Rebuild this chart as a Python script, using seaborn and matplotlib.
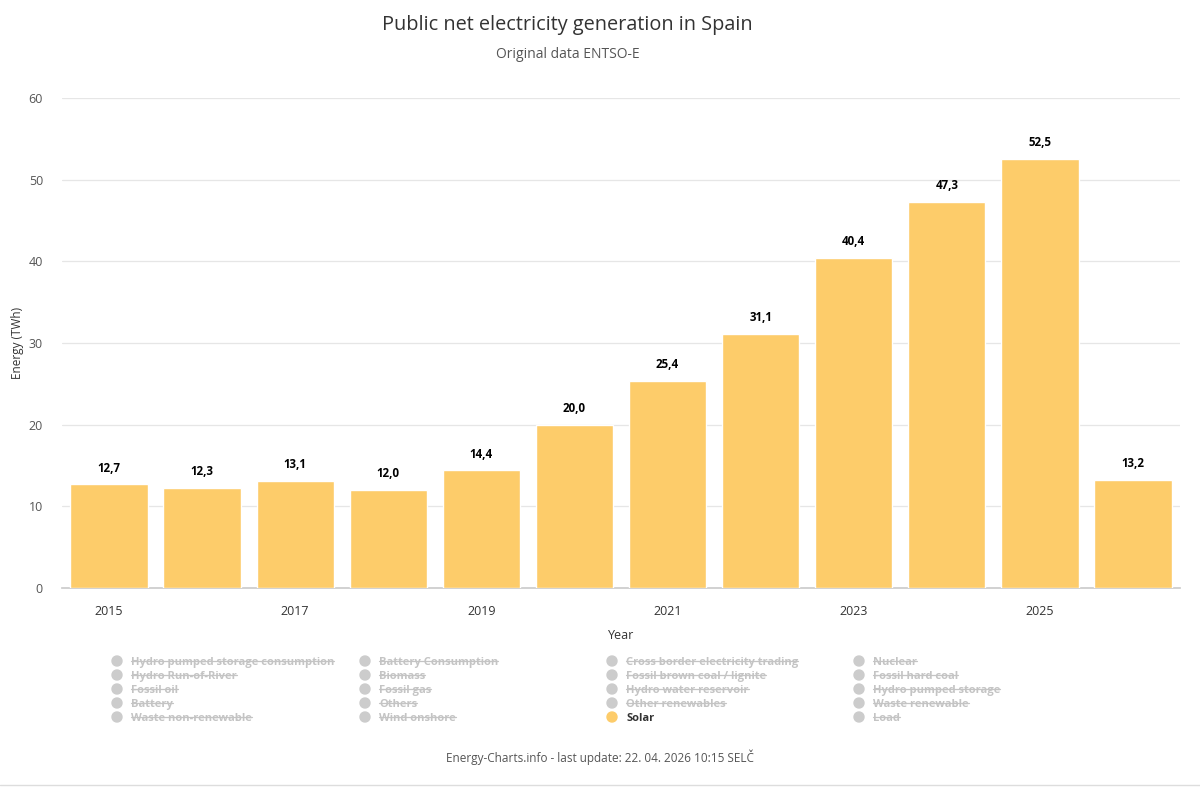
import pandas as pd
import matplotlib.pyplot as plt
import seaborn as sns
from matplotlib.lines import Line2D

# data
years = [2015, 2016, 2017, 2018, 2019, 2020, 2021, 2022, 2023, 2024, 2025, 2026]
solar_twh = [12.7, 12.3, 13.1, 12.0, 14.4, 20.0, 25.4, 31.1, 40.4, 47.3, 52.5, 13.2]
tick_years = [2015, 2017, 2019, 2021, 2023, 2025]
legend_names = [
    "Hydro pumped storage consumption", "Battery Consumption", "Cross border electricity trading", "Nuclear",
    "Hydro Run-of-River", "Biomass", "Fossil brown coal / lignite", "Fossil hard coal",
    "Fossil oil", "Fossil gas", "Hydro water reservoir", "Hydro pumped storage",
    "Battery", "Others", "Other renewables", "Waste renewable",
    "Waste non-renewable", "Wind onshore", "Solar", "Load",
]
active_series = "Solar"

sns.set_theme(style="white")
plt.rcParams['font.family'] = ['Open Sans', 'DejaVu Sans']

df = pd.DataFrame({"year": [str(y) for y in years], "value": solar_twh})
bar_color = "#fdcc6a"

fig = plt.figure(figsize=(12, 7.87), dpi=100)
ax = fig.add_axes([0.052, 0.2528, 0.931, 0.6227])

sns.barplot(data=df, x="year", y="value", color=bar_color, width=0.83,
            saturation=1, ax=ax, zorder=3)

for i, v in enumerate(solar_twh):
    ax.text(i, v + 1.2, f"{v:.1f}".replace(".", ","), ha="center", va="bottom",
            fontsize=8.3, fontweight="bold", color="black")

ax.set_ylim(0, 60)
ax.set_xlim(-0.5, len(years) - 0.5)
ax.set_yticks([0, 10, 20, 30, 40, 50, 60])
ax.yaxis.grid(True, color="#e6e6e6", linewidth=0.9, zorder=0)
ax.set_xticks([years.index(y) for y in tick_years])
ax.set_xticklabels([str(y) for y in tick_years])
ax.tick_params(axis="x", length=0, pad=12, labelsize=9, labelcolor="#333333")
ax.tick_params(axis="y", length=0, pad=14, labelsize=9, labelcolor="#555555")
for s in ["top", "right", "left"]:
    ax.spines[s].set_visible(False)
ax.spines["bottom"].set_color("#cccccc")
ax.set_xlabel("Year", fontsize=9, color="#333333", labelpad=8)
ax.set_ylabel("Energy (TWh)", fontsize=8.5, color="#333333")
ax.yaxis.set_label_coords(-0.034, 0.5)

fig.text(0.473, 0.968, "Public net electricity generation in Spain", ha="center",
         va="center", fontsize=14.3, color="#333333")
fig.text(0.473, 0.931, "Original data ENTSO-E", ha="center", va="center",
         fontsize=10, color="#555555")
fig.text(0.5, 0.038, "Energy-Charts.info - last update: 22. 04. 2026 10:15 SELČ",
         ha="center", va="center", fontsize=8.5, color="#555555")

# legend, 4 columns, greyed out entries struck through
col_x = [117, 365, 612, 859]
row_y = [661, 675, 689, 703, 717]
W, H = 1200, 787
struck = []
for k, name in enumerate(legend_names):
    cx = col_x[k % 4] / W
    cy = 1 - row_y[k // 4] / H
    on = name == active_series
    fig.patches.append(plt.Circle((cx * W, cy * H), 5, transform=None,
                                  color=bar_color if on else "#cccccc"))
    t = fig.text(cx + 14 / W, cy, name, ha="left", va="center_baseline", fontsize=8,
                 fontweight="bold", color="#333333" if on else "#c4c4c4")
    if not on:
        struck.append((t, cy))

fig.canvas.draw()
r = fig.canvas.get_renderer()
for t, cy in struck:
    bb = t.get_window_extent(r)
    fig.lines.append(Line2D([bb.x0 / W, bb.x1 / W], [cy, cy], transform=fig.transFigure,
                            color="#c4c4c4", linewidth=0.9))

fig.lines.append(Line2D([0, 1], [0.003, 0.003], transform=fig.transFigure,
                        color="#dddddd", linewidth=1))

fig.savefig("out.png", dpi=100)
